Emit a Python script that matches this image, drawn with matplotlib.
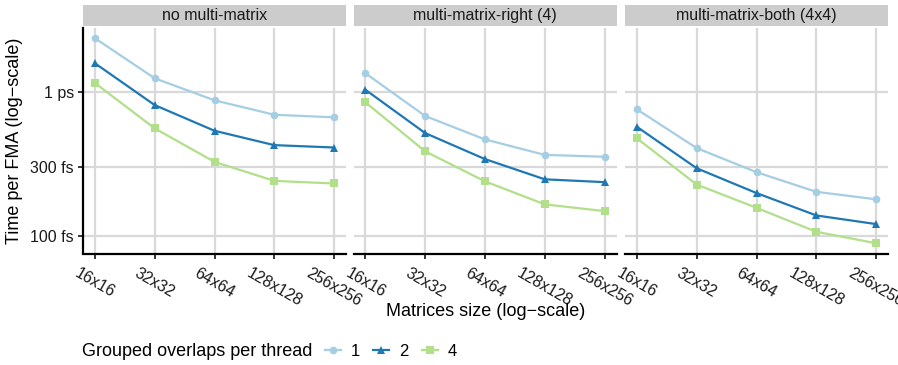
import numpy as np
import matplotlib
matplotlib.use("Agg")
import matplotlib.pyplot as plt
from matplotlib.lines import Line2D
from matplotlib.ticker import FixedLocator, NullLocator

plt.rcParams['font.family'] = ['Liberation Sans', 'DejaVu Sans']

# Matrix sizes (square dimension) and their labels
dims = [16, 32, 64, 128, 256]
size_labels = ["16x16", "32x32", "64x64", "128x128", "256x256"]

panels = ["no multi-matrix", "multi-matrix-right (4)", "multi-matrix-both (4x4)"]
overlaps = ["1", "2", "4"]

# Time per FMA in femtoseconds, per panel and per grouped-overlap count
no_multi_1 = [2380, 1252, 880, 698, 670]
no_multi_2 = [1593, 815, 540, 429, 413]
no_multi_4 = [1161, 561, 328, 242, 232]

right_1 = [1357, 684, 470, 367, 356]
right_2 = [1042, 520, 343, 248, 237]
right_4 = [852, 388, 240, 166, 149]

both_1 = [761, 409, 278, 203, 180]
both_2 = [575, 296, 199, 139, 121]
both_4 = [478, 228, 157, 107, 89]

data = [
    [no_multi_1, no_multi_2, no_multi_4],
    [right_1, right_2, right_4],
    [both_1, both_2, both_4],
]

y_breaks = [100, 300, 1000]
y_break_labels = ["100 fs", "300 fs", "1 ps"]

colors = ["#A6CEE3", "#1F78B4", "#B2DF8A"]
markers = ["o", "^", "s"]

W, H = 898, 365
fig = plt.figure(figsize=(W / 100, H / 100), dpi=100)

x = np.log2(dims)
all_vals = np.array([v for p in data for v in p], dtype=float)
lo, hi = np.log10(all_vals.min()), np.log10(all_vals.max())
pad = 0.05 * (hi - lo)
ylim = (10 ** (lo - pad), 10 ** (hi + pad))
xpad = 0.05 * (x.max() - x.min())
xlim = (x.min() - xpad, x.max() + xpad)

panel_left = [83, 353.5, 625]
panel_w = 263
panel_top, panel_bottom = 28, 253.5
strip_top, strip_bottom = 5, 26

grid_color = "#D9D9D9"
text_color = "#1A1A1A"

for i, (title, series) in enumerate(zip(panels, data)):
    ax = fig.add_axes([panel_left[i] / W, 1 - panel_bottom / H,
                       panel_w / W, (panel_bottom - panel_top) / H])
    ax.set_yscale("log")
    ax.set_xlim(*xlim)
    ax.set_ylim(*ylim)
    for vals, c, m in zip(series, colors, markers):
        ax.plot(x, vals, color=c, marker=m, markersize=5.5, linewidth=1.6,
                markeredgewidth=0, zorder=3, clip_on=False)

    ax.xaxis.set_major_locator(FixedLocator(x))
    ax.xaxis.set_minor_locator(NullLocator())
    ax.set_xticklabels(size_labels, rotation=-30, ha="center", va="top",
                       fontsize=11.5, color=text_color)
    ax.yaxis.set_major_locator(FixedLocator(y_breaks))
    ax.yaxis.set_minor_locator(NullLocator())
    ax.grid(True, which="major", color=grid_color, linewidth=1.6, zorder=0)
    ax.set_axisbelow(True)

    for s in ["top", "right"]:
        ax.spines[s].set_visible(False)
    ax.spines["bottom"].set_linewidth(1.6)
    ax.spines["bottom"].set_color("black")
    ax.tick_params(axis="x", length=3.5, width=1.1, color="black", pad=5)
    if i == 0:
        ax.spines["left"].set_linewidth(1.6)
        ax.spines["left"].set_color("black")
        ax.set_yticklabels(y_break_labels, fontsize=11.5, color=text_color)
        ax.tick_params(axis="y", length=3.5, width=1.1, color="black", pad=3)
    else:
        ax.spines["left"].set_visible(False)
        ax.tick_params(axis="y", length=0, labelleft=False)

    sax = fig.add_axes([panel_left[i] / W, 1 - strip_bottom / H,
                        panel_w / W, (strip_bottom - strip_top) / H])
    sax.set_facecolor("#CCCCCC")
    sax.set_xticks([])
    sax.set_yticks([])
    for s in sax.spines.values():
        s.set_visible(False)
    sax.text(0.5, 0.5, title, ha="center", va="center", fontsize=11.5,
             color=text_color, transform=sax.transAxes)

center_x = (panel_left[0] + panel_left[2] + panel_w) / 2
fig.text(center_x / W, 1 - 312 / H, "Matrices size (log\u2212scale)",
         ha="center", va="center", fontsize=13)
fig.text(15 / W, 1 - 141 / H, "Time per FMA (log\u2212scale)",
         ha="center", va="center", rotation=90, fontsize=13)

# Legend: title on the left, keys in one row
fig.text(82 / W, 1 - 351 / H, "Grouped overlaps per thread",
         ha="left", va="center", fontsize=13)
handles = [Line2D([], [], color=c, marker=m, markersize=5.5, linewidth=1.6,
                  markeredgewidth=0) for c, m in zip(colors, markers)]
fig.legend(handles, overlaps, loc="center left",
           bbox_to_anchor=(325 / W, 1 - 351 / H), ncol=3, frameon=False,
           fontsize=12, handlelength=0.95, handletextpad=0.6,
           columnspacing=0.8, borderpad=0, borderaxespad=0)

fig.savefig("out.png", dpi=100)
